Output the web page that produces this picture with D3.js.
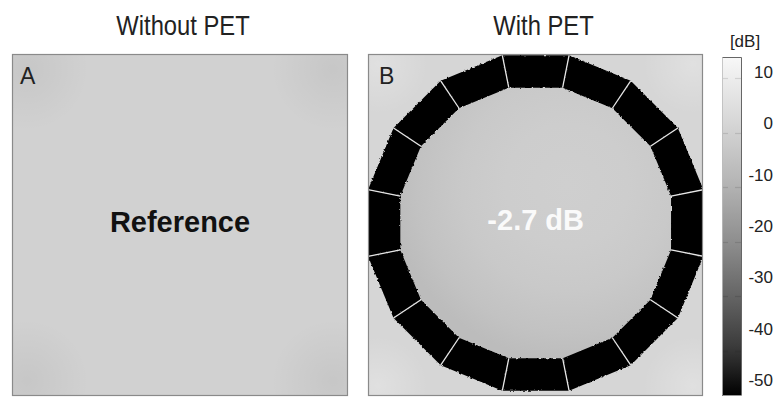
<!DOCTYPE html>
<html>
<head>
<meta charset="utf-8">
<script src="https://cdn.jsdelivr.net/npm/d3@7"></script>
<style>
  html, body { margin: 0; padding: 0; background: #fff; }
  svg { display: block; font-family: "Liberation Sans", Arial, sans-serif; }
</style>
</head>
<body>
<svg id="chart" width="778" height="399"></svg>
<script>
// Panel definitions
const panelTitles = ["Without PET", "With PET"];
const panelLetters = ["A", "B"];
// Relative level of each region [dB]
const referenceLevel = [0];
const insideLevel = [-2.7];
const ringLevel = [-50];
const ringSegments = d3.range(16);           // PET element indices around the ring
// Colour bar
const cbLabels = [10, 0, -10, -20, -30, -40, -50];
const cbTickMarks = [10, 0, -10, -20, -30, -40];
// Grey ramp stops [dB] and grey levels
const grayStops = [14, 0, -10, -20, -30, -40, -48];
const grayValues = [248, 209, 178, 142, 100, 55, 0];

const svg = d3.select("#chart");
const defs = svg.append("defs");

const gray = d3.scaleLinear().domain(grayStops).range(grayValues).clamp(true);
const grayColor = v => { const g = Math.round(gray(v)); return d3.rgb(g, g, g).toString(); };

// Panel frames
const panels = [
  {x0: 12, x1: 348, y0: 54, y1: 396},
  {x0: 368, x1: 703, y0: 54, y1: 396}
];

// Titles
svg.selectAll("text.title").data(panelTitles).join("text")
  .attr("class", "title")
  .attr("transform", (d, i) => `translate(${(panels[i].x0 + panels[i].x1) / 2 + (i === 0 ? 3 : 8)},35) scale(0.88,1)`)
  .attr("text-anchor", "middle")
  .attr("font-size", 27)
  .attr("fill", "#222")
  .text(d => d);

// Corner shading (soft darker lobes at panel corners)
const cornerGrad = defs.append("radialGradient").attr("id", "corner");
cornerGrad.append("stop").attr("offset", "0%").attr("stop-color", "#000").attr("stop-opacity", 0.05);
cornerGrad.append("stop").attr("offset", "100%").attr("stop-color", "#000").attr("stop-opacity", 0);
const cornerGradB = defs.append("radialGradient").attr("id", "cornerB");
cornerGradB.append("stop").attr("offset", "0%").attr("stop-color", "#fff").attr("stop-opacity", 0.25);
cornerGradB.append("stop").attr("offset", "100%").attr("stop-color", "#fff").attr("stop-opacity", 0);

panels.forEach((p, i) => {
  defs.append("clipPath").attr("id", "clip" + i)
    .append("rect").attr("x", p.x0).attr("y", p.y0)
    .attr("width", p.x1 - p.x0).attr("height", p.y1 - p.y0);
});

// ---------- Panel A ----------
const pA = panels[0];
const gA = svg.append("g").attr("clip-path", "url(#clip0)");
gA.append("rect").attr("x", pA.x0).attr("y", pA.y0)
  .attr("width", pA.x1 - pA.x0).attr("height", pA.y1 - pA.y0)
  .attr("fill", grayColor(referenceLevel[0]));
[[pA.x0 + 15, pA.y0 + 15], [pA.x1 - 15, pA.y0 + 15], [pA.x0 + 15, pA.y1 - 15], [pA.x1 - 15, pA.y1 - 15]]
  .forEach(c => gA.append("circle").attr("cx", c[0]).attr("cy", c[1]).attr("r", 62).attr("fill", "url(#corner)"));
gA.append("text").attr("x", (pA.x0 + pA.x1) / 2).attr("y", 232)
  .attr("text-anchor", "middle").attr("font-size", 29).attr("font-weight", "bold")
  .attr("fill", "#111").text("Reference");

// ---------- Panel B ----------
const pB = panels[1];
const cx = 535.7, cy = 223;
const r = d3.scaleLinear().domain([0, 1]).range([0, 171]);   // radius scale (normalised -> px)
const rInner = 0.807, rOuter = 1.0;

const gB = svg.append("g").attr("clip-path", "url(#clip1)");
gB.append("rect").attr("x", pB.x0).attr("y", pB.y0)
  .attr("width", pB.x1 - pB.x0).attr("height", pB.y1 - pB.y0)
  .attr("fill", d3.color(grayColor(referenceLevel[0])).brighter(0.07));
[[pB.x0 + 10, pB.y0 + 10], [pB.x1 - 10, pB.y0 + 10], [pB.x0 + 10, pB.y1 - 10], [pB.x1 - 10, pB.y1 - 10]]
  .forEach(c => gB.append("circle").attr("cx", c[0]).attr("cy", c[1]).attr("r", 50).attr("fill", "url(#cornerB)"));

// Inner field: shaded around a slightly off-centre maximum
const inner = defs.append("radialGradient").attr("id", "inner")
  .attr("gradientUnits", "userSpaceOnUse")
  .attr("cx", 567).attr("cy", 185).attr("r", 175).attr("fx", 567).attr("fy", 185);
const base = gray(insideLevel[0]);
[[0, 6], [0.35, 4], [0.6, 0], [0.85, -7], [1, -13]].forEach(s => {
  const g = Math.round(base + s[1]);
  inner.append("stop").attr("offset", s[0]).attr("stop-color", d3.rgb(g, g, g));
});

const polyAngle = d3.scaleLinear().domain([0, ringSegments.length]).range([0, 2 * Math.PI]);
const pt = (a, rr) => [cx + r(rr) * Math.sin(a), cy - r(rr) * Math.cos(a)];

// inner polygon (interior of the ring)
const innerPoly = ringSegments.map(i => pt(polyAngle(i + 0.5), rInner));
gB.append("path").attr("d", "M" + innerPoly.join("L") + "Z").attr("fill", "url(#inner)");

// jagged edge filter for the ring elements
const jag = defs.append("filter").attr("id", "jag").attr("x", "-5%").attr("y", "-5%").attr("width", "110%").attr("height", "110%");
jag.append("feTurbulence").attr("type", "fractalNoise").attr("baseFrequency", 0.45).attr("numOctaves", 1).attr("seed", 3).attr("result", "n");
jag.append("feDisplacementMap").attr("in", "SourceGraphic").attr("in2", "n").attr("scale", 3)
  .attr("xChannelSelector", "R").attr("yChannelSelector", "G");

// ring elements
const segPath = i => {
  const a0 = polyAngle(i - 0.5), a1 = polyAngle(i + 0.5);
  return "M" + [pt(a0, rInner), pt(a0, rOuter), pt(a1, rOuter), pt(a1, rInner)].join("L") + "Z";
};
gB.append("g").attr("filter", "url(#jag)")
  .selectAll("path").data(ringSegments).join("path")
  .attr("d", segPath)
  .attr("fill", grayColor(ringLevel[0]));

// element boundaries
gB.append("g").selectAll("line").data(ringSegments).join("line")
  .attr("x1", i => pt(polyAngle(i + 0.5), rInner)[0])
  .attr("y1", i => pt(polyAngle(i + 0.5), rInner)[1])
  .attr("x2", i => pt(polyAngle(i + 0.5), rOuter)[0])
  .attr("y2", i => pt(polyAngle(i + 0.5), rOuter)[1])
  .attr("stroke", "#e6e6e6").attr("stroke-width", 1.3);

gB.append("text").attr("x", cx).attr("y", 230)
  .attr("text-anchor", "middle").attr("font-size", 29).attr("font-weight", "bold")
  .attr("fill", "#fafafa").text(insideLevel[0].toFixed(1) + " dB");

// Panel borders and letters
panels.forEach((p, i) => {
  svg.append("rect").attr("x", p.x0 + 0.5).attr("y", p.y0 + 0.5)
    .attr("width", p.x1 - p.x0 - 1).attr("height", p.y1 - p.y0 - 1)
    .attr("fill", "none").attr("stroke", "#8a8a8a").attr("stroke-width", 1.2);
  svg.append("text").attr("x", p.x0 + (i === 0 ? 8 : 11)).attr("y", p.y0 + 30)
    .attr("font-size", 23).attr("fill", "#222").text(panelLetters[i]);
});

// ---------- Colour bar ----------
const cb = {x0: 722, x1: 742, y0: 57, y1: 396};
const cbScale = d3.scaleLinear().domain([10, -40]).range([78, 351]);
const cbTop = cbScale.invert(cb.y0), cbBottom = cbScale.invert(cb.y1);
const cbGrad = defs.append("linearGradient").attr("id", "cbgrad")
  .attr("x1", 0).attr("y1", 0).attr("x2", 0).attr("y2", 1);
d3.range(0, 1.0001, 0.05).forEach(t => {
  const v = cbTop + (cbBottom - cbTop) * t;
  cbGrad.append("stop").attr("offset", t).attr("stop-color", grayColor(v));
});
svg.append("rect").attr("x", cb.x0).attr("y", cb.y0)
  .attr("width", cb.x1 - cb.x0).attr("height", cb.y1 - cb.y0)
  .attr("fill", "url(#cbgrad)");
// frame: darker right and top edges
svg.append("path")
  .attr("d", `M${cb.x0},${cb.y0 + 0.5}H${cb.x1 - 0.5}V${cb.y1}`)
  .attr("fill", "none").attr("stroke", "#666").attr("stroke-width", 1);
svg.append("path")
  .attr("d", `M${cb.x0 + 0.5},${cb.y0}V${cb.y1 - 0.5}H${cb.x1}`)
  .attr("fill", "none").attr("stroke", "#bbb").attr("stroke-width", 0.8);
// inner tick marks on both sides
const tickG = svg.append("g");
cbTickMarks.forEach(v => {
  const y = Math.round(cbScale(v)) + 0.5;
  const c = d3.color(grayColor(v)).darker(0.35);
  tickG.append("line").attr("x1", cb.x0 + 1).attr("x2", cb.x0 + 6).attr("y1", y).attr("y2", y)
    .attr("stroke", c).attr("stroke-width", 1.2);
  tickG.append("line").attr("x1", cb.x1 - 7).attr("x2", cb.x1 - 1).attr("y1", y).attr("y2", y)
    .attr("stroke", c).attr("stroke-width", 1.2);
});
// labels
const labelScale = d3.scalePoint().domain(cbLabels).range([72, 380]);
svg.append("g").selectAll("text").data(cbLabels).join("text")
  .attr("x", 773).attr("y", d => labelScale(d) + 6)
  .attr("text-anchor", "end").attr("font-size", 17).attr("fill", "#222")
  .text(d => d);
svg.append("text").attr("x", 745).attr("y", 47)
  .attr("text-anchor", "middle").attr("font-size", 17).attr("fill", "#222")
  .text("[dB]");
</script>
</body>
</html>
